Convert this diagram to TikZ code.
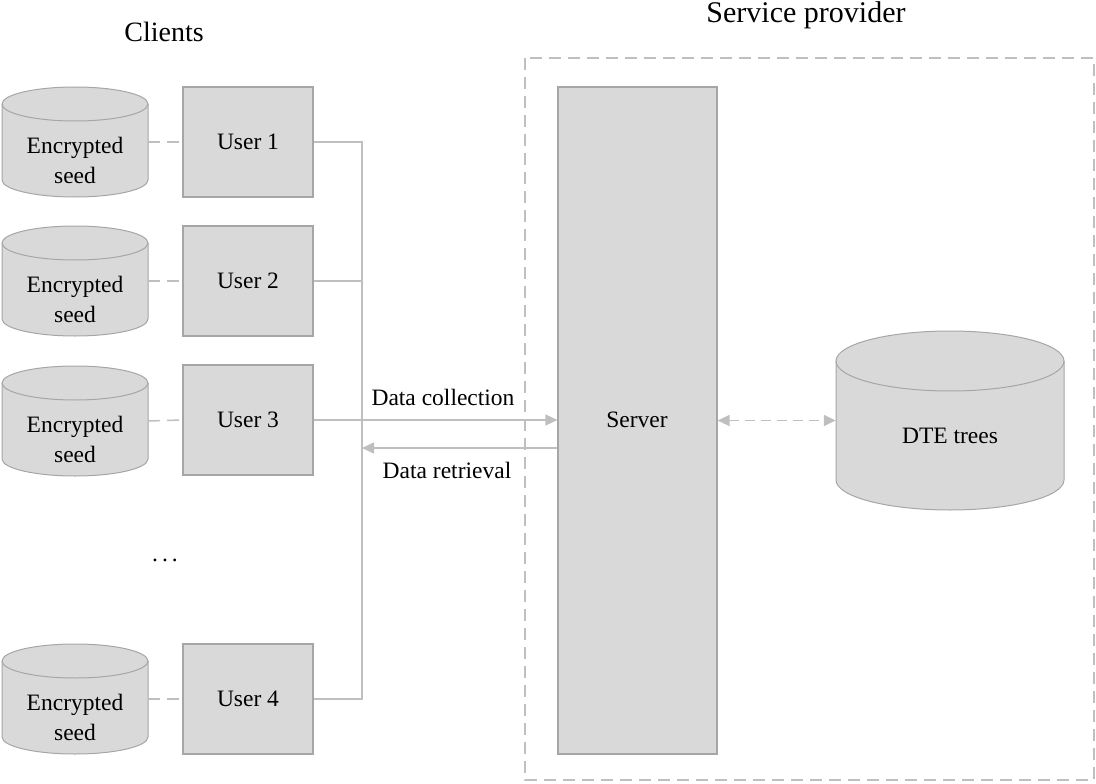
\documentclass[tikz,border=0pt]{standalone}
\usepackage{fontspec}
\setmainfont{Liberation Serif}
\usetikzlibrary{arrows.meta}

\definecolor{boxfill}{HTML}{D9D9D9}
\definecolor{boxline}{HTML}{A6A6A6}
\definecolor{wire}{HTML}{BFBFBF}

% database drum: name, centre x, top y, half width, bottom y, ellipse y radius
\newcommand\drum[6]{%
  \filldraw[fill=boxfill, draw=boxline, line width=1pt]
    ({#2-#4},{-(#3+#6)}) -- ({#2-#4},{-(#5-#6)})
    arc[start angle=180, end angle=360, x radius=#4, y radius=#6]
    -- ({#2+#4},{-(#3+#6)})
    arc[start angle=0, end angle=180, x radius=#4, y radius=#6] -- cycle;
  \draw[boxline, line width=1pt] ({#2-#4},{-(#3+#6)})
    arc[start angle=180, end angle=360, x radius=#4, y radius=#6];
  \node[minimum width={2*#4}, minimum height={#5-#3}, inner sep=0pt]
    (#1) at (#2,{-(#3+#5)/2}) {};
}

\tikzset{
  x=1pt, y=1pt,
  txt/.style={font=\fontsize{23.5}{30}\selectfont, align=center, inner sep=0pt},
  head/.style={font=\fontsize{28}{32}\selectfont, inner sep=0pt},
  userbox/.style={draw=boxline, fill=boxfill, line width=1.2pt,
    minimum width=130pt, minimum height=110pt, inner sep=0pt,
    font=\fontsize{23.5}{30}\selectfont},
  wireline/.style={draw=wire, line width=1.5pt},
  linkdash/.style={wireline, dash pattern=on 12pt off 7pt},
  tip/.style={-{Triangle[length=12pt,width=11pt,fill=wire]}},
}

\begin{document}
\begin{tikzpicture}
\useasboundingbox (0,0) rectangle (1096,-784);

% provider frame
\draw[draw=wire, line width=2pt, dash pattern=on 12pt off 7pt]
  (525,-58) rectangle (1094,-780);

% headings
\node[head] (clients) at (164,-32) {Clients};
\node[head, font=\fontsize{30}{34}\selectfont] (provider) at (806,-15) {Service provider};

% encrypted seed stores
\drum{s1}{75}{87}{73}{197}{17}
\drum{s2}{75}{226}{73}{336}{17}
\drum{s3}{75}{366}{73}{476}{17}
\drum{s4}{75}{644}{73}{754}{17}
\foreach \n/\y in {1/160,2/299,3/439,4/717}
  \node[txt] (t\n) at (75,-\y) {Encrypted\\seed};

% users
\node[userbox] (u1) at (248,-142) {User 1};
\node[userbox] (u2) at (248,-281) {User 2};
\node[userbox] (u3) at (248,-420) {User 3};
\node[userbox] (u4) at (248,-699) {User 4};
\node[txt] (more) at (165,-560) {.\kern4pt.\kern4pt.};

% server
\node[draw=boxline, fill=boxfill, line width=1.2pt, minimum width=159pt,
  minimum height=667pt, inner sep=0pt]
  (srv) at (637.5,-420.5) {};
\node[txt] (srvlbl) at (637,-420) {Server};

% tree store
\drum{dte}{950}{331}{114}{510}{30}
\node[txt] (dtelbl) at (950,-436) {DTE trees};

% seed to user links
\foreach \n in {1,...,4}
  \draw[linkdash] (s\n.east) -- (u\n.west);

% client bus
\coordinate (bustop) at (362,-142);
\coordinate (busbot) at (362,-699);
\coordinate (ret) at (362,-448);
\draw[wireline] (u1.east) -- (bustop) -- (busbot) -- (u4.east);
\draw[wireline] (u2.east) -- (u2.east -| bustop);
\draw[wireline, tip] (u3.east) -- (u3.east -| srv.west);
\draw[wireline, tip] (srv.west |- ret) -- (ret);
\node[txt] (collect) at (443,-397) {Data collection};
\node[txt] (retrieve) at (447,-470) {Data retrieval};

% server to tree store
\draw[wireline, dash pattern=on 10pt off 6pt,
  {Triangle[length=12pt,width=11pt,fill=wire]}-{Triangle[length=12pt,width=11pt,fill=wire]}]
  (srv.east |- dte.west) -- (dte.west);
\end{tikzpicture}
\end{document}
